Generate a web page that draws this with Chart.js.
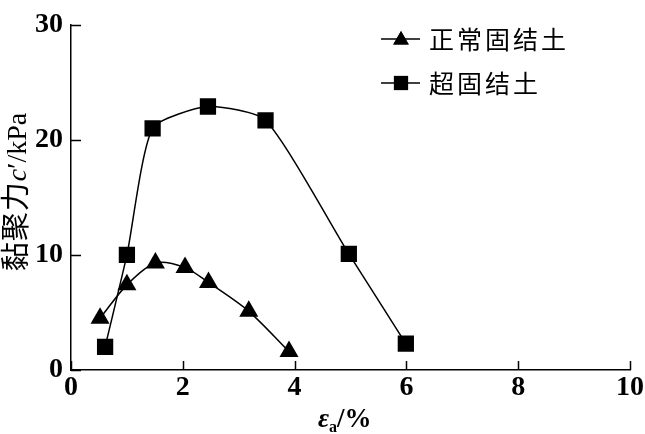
<!DOCTYPE html>
<html>
<head>
<meta charset="utf-8">
<script src="https://cdn.jsdelivr.net/npm/chart.js@4.4.1/dist/chart.umd.min.js"></script>
<style>
  html, body { margin: 0; padding: 0; background: #fff; }
  #wrap { width: 645px; height: 434px; position: relative; }
</style>
</head>
<body>
<div id="wrap"><canvas id="c"></canvas></div>
<script>
// Axial strain ε_a (%) and cohesion c′ (kPa)
const normalStrain = [0.52, 1.0, 1.51, 2.04, 2.46, 3.18, 3.9];
const normalCohesion = [4.5, 7.4, 9.3, 8.9, 7.6, 5.1, 1.6];
const overStrain = [0.61, 1.0, 1.46, 2.45, 3.48, 4.97, 5.99];
const overCohesion = [2.0, 10.0, 21.0, 22.9, 21.7, 10.1, 2.3];
const seriesLabels = ['正常固结土', '超固结土'];
const xTicks = [0, 2, 4, 6, 8, 10];
const yTicks = [0, 10, 20, 30];

const toPoints = (xs, ys) => xs.map((x, i) => ({ x: x, y: ys[i] }));

const SERIF = '"Liberation Serif", "Times New Roman", serif';
const CJK = '"Noto Sans CJK SC", sans-serif';

// Inward tick marks on both axes
const innerTicks = {
  id: 'innerTicks',
  afterDraw(chart) {
    const { ctx, scales: { x, y }, chartArea: a } = chart;
    ctx.save();
    ctx.strokeStyle = '#000';
    ctx.lineWidth = 1.5;
    ctx.beginPath();
    xTicks.forEach(v => {
      const px = Math.round(x.getPixelForValue(v)) + 0.5;
      ctx.moveTo(px, a.bottom);
      ctx.lineTo(px, a.bottom - 9);
    });
    yTicks.forEach(v => {
      const py = Math.round(y.getPixelForValue(v)) + 0.5;
      ctx.moveTo(a.left, py);
      ctx.lineTo(a.left + 10, py);
    });
    ctx.stroke();
    ctx.restore();
  }
};

// Legend: line segment with marker, then label
const legendBox = {
  id: 'legendBox',
  afterDraw(chart) {
    const { ctx } = chart;
    const rows = [39, 83];
    ctx.save();
    chart.data.datasets.forEach((ds, i) => {
      const yy = rows[i];
      ctx.strokeStyle = '#000';
      ctx.lineWidth = 1.5;
      ctx.beginPath();
      ctx.moveTo(381, yy);
      ctx.lineTo(420, yy);
      ctx.stroke();
      ctx.fillStyle = '#000';
      Chart.helpers.drawPoint(ctx, {
        pointStyle: ds.pointStyle,
        radius: ds.pointStyle === 'triangle' ? 9 : 10,
        rotation: 0,
        borderWidth: 0
      }, 401, ds.pointStyle === 'triangle' ? yy + 1 : yy);
      ctx.fill();
      ctx.font = '25px ' + CJK;
      ctx.letterSpacing = '3px';
      ctx.textBaseline = 'middle';
      ctx.textAlign = 'left';
      ctx.fillText(ds.label, 429, yy);
    });
    ctx.restore();
  }
};

// Axis titles with mixed italic / subscript runs
const axisTitles = {
  id: 'axisTitles',
  afterDraw(chart) {
    const { ctx } = chart;
    ctx.save();
    ctx.fillStyle = '#000';
    ctx.textBaseline = 'alphabetic';
    ctx.textAlign = 'left';

    // x title: ε_a/%
    let x0 = 318;
    const base = 427;
    ctx.font = 'italic bold 27px ' + SERIF;
    ctx.fillText('ε', x0, base);
    x0 += ctx.measureText('ε').width;
    ctx.font = 'bold 16px ' + SERIF;
    ctx.fillText('a', x0, base + 5);
    x0 += ctx.measureText('a').width;
    ctx.font = 'bold 27px ' + SERIF;
    ctx.fillText('/%', x0, base);

    // y title: 黏聚力c′/kPa, rotated
    const runs = [
      { t: '黏聚力', f: '29px ' + CJK, ls: '1px' },
      { t: 'c', f: 'italic 28px ' + SERIF, ls: '0px' },
      { t: '′', f: '28px ' + SERIF, ls: '0px' },
      { t: '/kPa', f: '28px ' + SERIF, ls: '0px' }
    ];
    let total = 0;
    runs.forEach(r => {
      ctx.font = r.f;
      ctx.letterSpacing = r.ls;
      r.w = ctx.measureText(r.t).width;
      total += r.w;
    });
    ctx.translate(26, 192);
    ctx.rotate(-Math.PI / 2);
    let cx = -total / 2;
    runs.forEach(r => {
      ctx.font = r.f;
      ctx.letterSpacing = r.ls;
      ctx.fillText(r.t, cx, 0);
      cx += r.w;
    });
    ctx.restore();
  }
};

new Chart(document.getElementById('c'), {
  type: 'line',
  data: {
    datasets: [
      {
        label: seriesLabels[0],
        data: toPoints(normalStrain, normalCohesion),
        pointStyle: 'triangle',
        pointRadius: 11,
        pointBorderWidth: 0,
        pointBackgroundColor: '#000',
        borderColor: '#000',
        borderWidth: 1.5,
        tension: 0.3,
        fill: false
      },
      {
        label: seriesLabels[1],
        data: toPoints(overStrain, overCohesion),
        pointStyle: 'rect',
        pointRadius: 11.5,
        pointBorderWidth: 0,
        pointBackgroundColor: '#000',
        borderColor: '#000',
        borderWidth: 1.5,
        tension: 0.2,
        fill: false
      }
    ]
  },
  options: {
    responsive: true,
    maintainAspectRatio: false,
    animation: false,
    layout: { padding: { top: 10, right: 14, left: 0, bottom: 0 } },
    plugins: {
      legend: { display: false },
      tooltip: { enabled: false }
    },
    scales: {
      x: {
        type: 'linear',
        min: 0,
        max: 10,
        afterBuildTicks(axis) { axis.ticks = xTicks.map(v => ({ value: v })); },
        afterFit(axis) { axis.height = 64; },
        grid: { display: false, drawTicks: false },
        border: { display: true, color: '#000', width: 1.5 },
        ticks: {
          color: '#000',
          padding: 1,
          maxRotation: 0,
          font: { family: SERIF, size: 28, weight: 'bold' }
        }
      },
      y: {
        type: 'linear',
        min: 0,
        max: 30,
        afterBuildTicks(axis) { axis.ticks = yTicks.map(v => ({ value: v })); },
        afterFit(axis) { axis.width = 71; },
        grid: { display: false, drawTicks: false },
        border: { display: true, color: '#000', width: 1.5 },
        ticks: {
          color: '#000',
          padding: 8,
          font: { family: SERIF, size: 28, weight: 'bold' }
        }
      }
    }
  },
  plugins: [innerTicks, legendBox, axisTitles]
});
</script>
</body>
</html>
